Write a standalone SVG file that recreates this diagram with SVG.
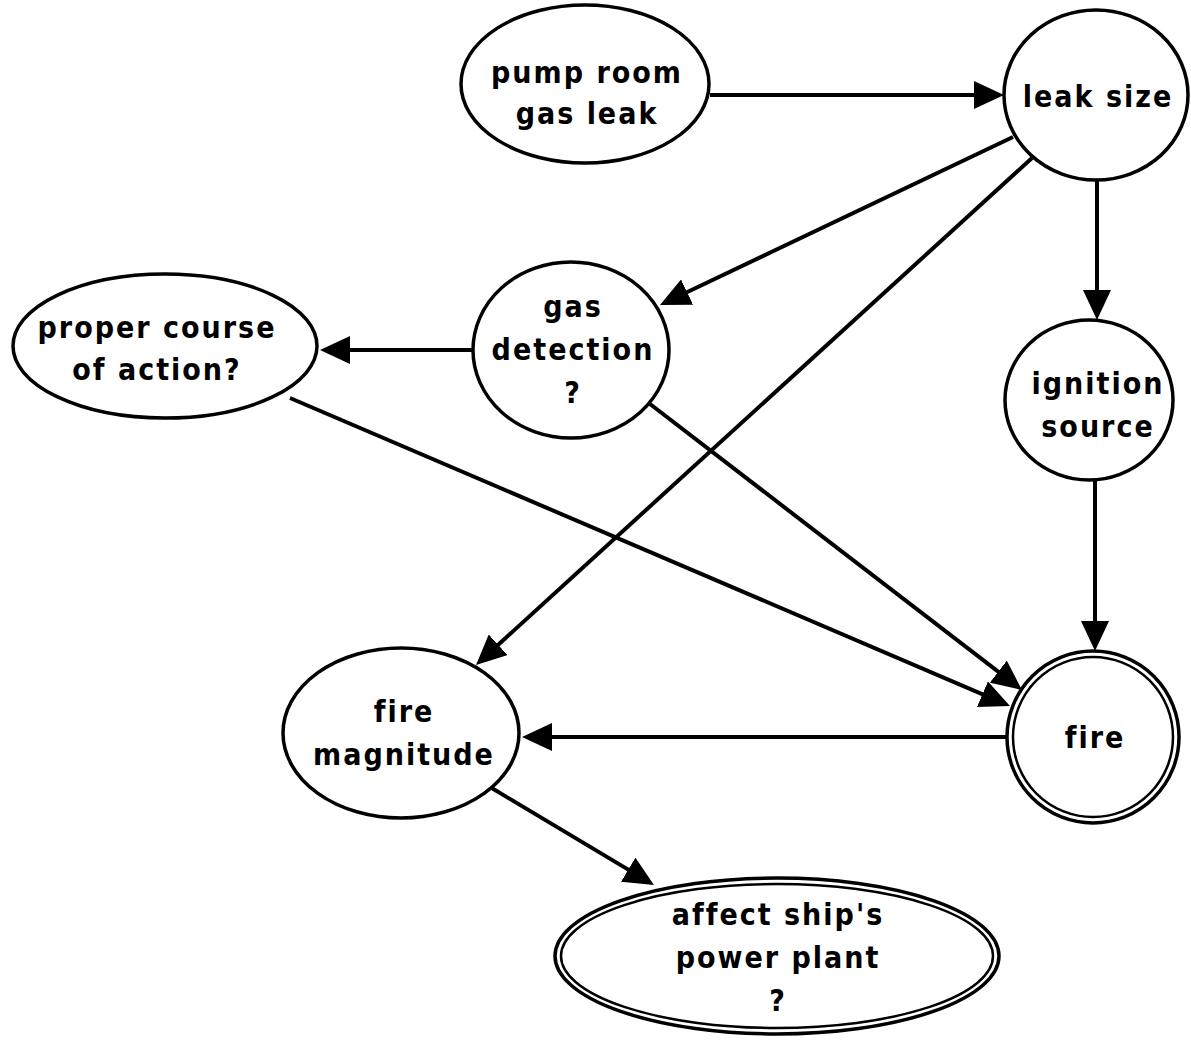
<svg xmlns="http://www.w3.org/2000/svg" width="1191" height="1044" viewBox="0 0 1191 1044">
<style>
.node ellipse{fill:#fff;stroke:#000;stroke-width:3.5}
.node ellipse.inner{fill:none;stroke-width:2.5}
.lbl{font-family:"DejaVu Sans Condensed","DejaVu Sans","Liberation Sans",sans-serif;font-weight:bold;font-size:30px;letter-spacing:2px;text-anchor:middle;fill:#000}
.edge{stroke:#000;stroke-width:4;fill:none;marker-end:url(#arr)}
</style>
<defs>
<marker id="arr" viewBox="0 0 30 28" refX="20" refY="14" markerWidth="30" markerHeight="28" markerUnits="userSpaceOnUse" orient="auto">
<path d="M0,0 L30,14 L0,28 Z" fill="#000"/>
</marker>
</defs>
<rect width="1191" height="1044" fill="#fff"/>
<g id="connectors">
<line class="edge" x1="710" y1="95" x2="994" y2="95"/>
<line class="edge" x1="1013" y1="137" x2="669" y2="300.7"/>
<line class="edge" x1="1032" y1="158" x2="483.4" y2="658.3"/>
<line class="edge" x1="1097" y1="180" x2="1097" y2="310"/>
<line class="edge" x1="473" y1="350" x2="330" y2="350"/>
<line class="edge" x1="650" y1="404" x2="1014.1" y2="683.9"/>
<line class="edge" x1="290" y1="398" x2="1000.8" y2="702.1"/>
<line class="edge" x1="1095" y1="480" x2="1095" y2="641"/>
<line class="edge" x1="1007" y1="737" x2="532" y2="737"/>
<line class="edge" x1="490" y1="787" x2="645.4" y2="879.9"/>
</g>
<g id="pump" class="node">
<ellipse cx="585" cy="84" rx="124" ry="79"/>
<text class="lbl" x="587" y="83">pump room</text>
<text class="lbl" x="587" y="124">gas leak</text>
</g>
<g id="leak" class="node">
<ellipse cx="1096" cy="95" rx="92" ry="85"/>
<text class="lbl" x="1098" y="107">leak size</text>
</g>
<g id="proper" class="node">
<ellipse cx="165" cy="346" rx="152" ry="72"/>
<text class="lbl" x="157" y="338">proper course</text>
<text class="lbl" x="157" y="380">of action?</text>
</g>
<g id="gasdet" class="node">
<ellipse cx="571" cy="350" rx="98" ry="88"/>
<text class="lbl" x="573" y="317">gas</text>
<text class="lbl" x="573" y="360">detection</text>
<text class="lbl" x="573" y="403">?</text>
</g>
<g id="ignition" class="node">
<ellipse cx="1089" cy="400" rx="84" ry="80"/>
<text class="lbl" x="1098" y="394">ignition</text>
<text class="lbl" x="1098" y="437">source</text>
</g>
<g id="firemag" class="node">
<ellipse cx="401" cy="733" rx="118" ry="85"/>
<text class="lbl" x="404" y="722">fire</text>
<text class="lbl" x="404" y="765">magnitude</text>
</g>
<g id="fire" class="node">
<ellipse cx="1093" cy="737" rx="86" ry="86"/>
<ellipse class="inner" cx="1093" cy="737" rx="80" ry="80"/>
<text class="lbl" x="1095" y="748">fire</text>
</g>
<g id="affect" class="node">
<ellipse cx="777" cy="956" rx="222" ry="78"/>
<ellipse class="inner" cx="777" cy="956" rx="216" ry="72"/>
<text class="lbl" x="778" y="925">affect ship's</text>
<text class="lbl" x="778" y="968">power plant</text>
<text class="lbl" x="778" y="1011">?</text>
</g>
</svg>
